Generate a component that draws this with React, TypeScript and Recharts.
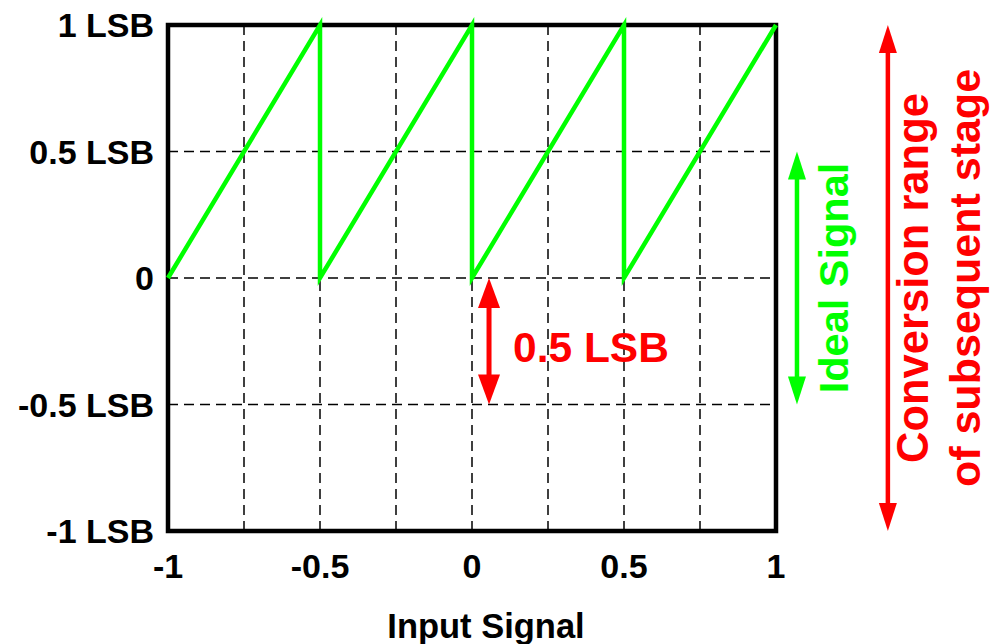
import React from "react";
import {
	LineChart,
	Line,
	XAxis,
	YAxis,
	CartesianGrid,
	ReferenceArea,
	ReferenceLine,
} from "recharts";

// Residue transfer curve (sawtooth)
const inputSignal = [-1, -0.5, -0.5, 0, 0, 0.5, 0.5, 1];
const residueOut = [0, 1, 0, 1, 0, 1, 0, 1];

const xTicks = [-1, -0.5, 0, 0.5, 1];
const xTickLabels = ["-1", "-0.5", "0", "0.5", "1"];
const yTicks = [-1, -0.5, 0, 0.5, 1];
const yTickLabels = ["-1 LSB", "-0.5 LSB", "0", "0.5 LSB", "1 LSB"];

const gridX = [-0.75, -0.5, -0.25, 0, 0.25, 0.5, 0.75];
const gridY = [-0.5, 0, 0.5];

// annotation arrows, in data coordinates: [x, yFrom, yTo]
const halfLsbArrow = [0.056, 0, -0.5];
const idealArrow = [1.069, 0.5, -0.5];
const rangeArrow = [1.368, 1, -1];

const GREEN = "#00ff00";
const RED = "#ff0000";
const FONT = "'Liberation Sans', Arial, sans-serif";

const data = inputSignal.map((x, i) => ({ x, y: residueOut[i] }));

function makeArrow(
	color: string,
	shaftWidth: number,
	headWidth: number,
	headLength: number,
	renderLabel?: (x: number, mid: number) => React.ReactNode
) {
	return (props: any) => {
		const { x1, y1, y2 } = props;
		const x = x1;
		const top = Math.min(y1, y2);
		const bottom = Math.max(y1, y2);
		const mid = (top + bottom) / 2;
		return (
			<g>
				<line
					x1={x}
					x2={x}
					y1={top + headLength - 2}
					y2={bottom - headLength + 2}
					stroke={color}
					strokeWidth={shaftWidth}
				/>
				<polygon
					points={`${x},${top} ${x - headWidth / 2},${top + headLength} ${x + headWidth / 2},${top + headLength}`}
					fill={color}
				/>
				<polygon
					points={`${x},${bottom} ${x - headWidth / 2},${bottom - headLength} ${x + headWidth / 2},${bottom - headLength}`}
					fill={color}
				/>
				{renderLabel ? renderLabel(x, mid) : null}
			</g>
		);
	};
}

const rotatedText = (x: number, y: number, text: string, color: string, size: number) => (
	<text
		x={x}
		y={y}
		fill={color}
		fontSize={size}
		fontWeight="bold"
		fontFamily={FONT}
		textAnchor="middle"
		transform={`rotate(-90, ${x}, ${y})`}
	>
		{text}
	</text>
);

export default function App() {
	return (
		<div style={{ position: "absolute", left: 0, top: 0, background: "#fff" }}>
			<LineChart
				width={992}
				height={644}
				data={data}
				margin={{ top: 25, right: 216, left: 0, bottom: 0 }}
				style={{ fontFamily: FONT }}
			>
				<CartesianGrid
					stroke="#000"
					strokeWidth={1.5}
					strokeDasharray="10 6"
					horizontalValues={gridY}
					verticalValues={gridX}
				/>
				<XAxis
					dataKey="x"
					type="number"
					domain={[-1, 1]}
					ticks={xTicks}
					tickFormatter={(v: number) => xTickLabels[xTicks.indexOf(v)]}
					axisLine={false}
					tickLine={false}
					tickSize={0}
					tickMargin={23}
					height={113}
					tick={{ fill: "#000", fontSize: 34, fontWeight: "bold", fontFamily: FONT }}
					label={(p: any) => {
						const vb = p.viewBox;
						return (
							<text
								x={vb.x + vb.width / 2 + 14}
								y={vb.y + vb.height - 6}
								textAnchor="middle"
								fontSize={34.5}
								fontWeight="bold"
								fontFamily={FONT}
								fill="#000"
							>
								Input Signal
							</text>
						);
					}}
				/>
				<YAxis
					type="number"
					domain={[-1, 1]}
					ticks={yTicks}
					tickFormatter={(v: number) => yTickLabels[yTicks.indexOf(v)]}
					axisLine={false}
					tickLine={false}
					tickSize={0}
					tickMargin={14}
					width={168}
					tick={{ fill: "#000", fontSize: 34, fontWeight: "bold", fontFamily: FONT }}
				/>
				<ReferenceArea
					x1={-1}
					x2={1}
					y1={-1}
					y2={1}
					fill="none"
					stroke="#000"
					strokeWidth={4.5}
				/>
				<Line
					dataKey="y"
					type="linear"
					stroke={GREEN}
					strokeWidth={4.5}
					dot={false}
					activeDot={false}
					isAnimationActive={false}
				/>
				<ReferenceLine
					segment={[
						{ x: halfLsbArrow[0], y: halfLsbArrow[1] },
						{ x: halfLsbArrow[0], y: halfLsbArrow[2] },
					]}
					ifOverflow="visible"
					shape={makeArrow(RED, 5, 22, 30, (x, mid) => (
						<text
							x={x + 24}
							y={mid + 21}
							fill={RED}
							fontSize={42.5}
							fontWeight="bold"
							fontFamily={FONT}
						>
							0.5 LSB
						</text>
					))}
				/>
				<ReferenceLine
					segment={[
						{ x: idealArrow[0], y: idealArrow[1] },
						{ x: idealArrow[0], y: idealArrow[2] },
					]}
					ifOverflow="visible"
					shape={makeArrow(GREEN, 4.5, 18, 28, (x, mid) =>
						rotatedText(x + 51, mid, "Ideal Signal", GREEN, 41.5)
					)}
				/>
				<ReferenceLine
					segment={[
						{ x: rangeArrow[0], y: rangeArrow[1] },
						{ x: rangeArrow[0], y: rangeArrow[2] },
					]}
					ifOverflow="visible"
					shape={makeArrow(RED, 4.5, 18, 28, (x, mid) => (
						<g>
							{rotatedText(x + 40, mid, "Conversion range", RED, 43.5)}
							{rotatedText(x + 92, mid, "of subsequent stage", RED, 43)}
						</g>
					))}
				/>
			</LineChart>
		</div>
	);
}
